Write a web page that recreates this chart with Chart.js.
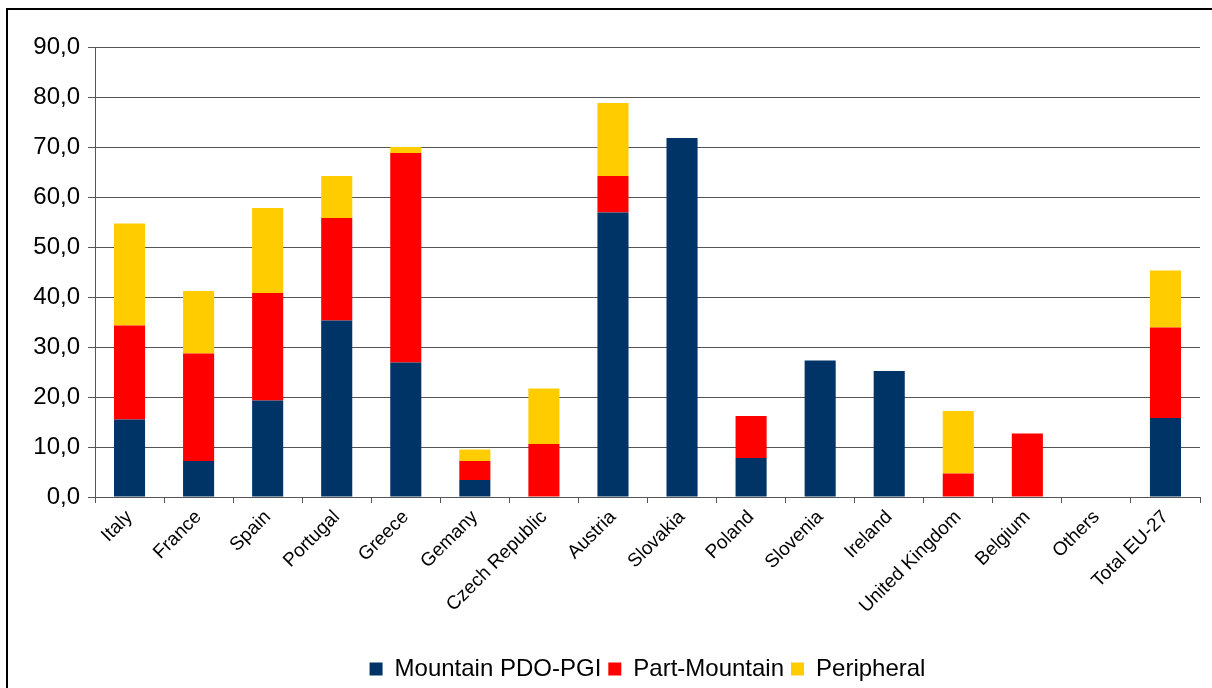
<!DOCTYPE html>
<html lang="en">
<head>
    <meta charset="UTF-8">
    <title>PDO-PGI by area type</title>
    <script src="https://cdn.jsdelivr.net/npm/chart.js"></script>
    <style>
        body {
            margin: 0;
            background: #fff;
            font-family: 'Liberation Sans', Arial, sans-serif;
        }
        .wrap {
            position: relative;
            width: 1212px;
            height: 688px;
            overflow: hidden;
        }
        .frame {
            position: absolute;
            left: 6px;
            top: 8px;
            width: 1300px;
            height: 800px;
            border: 2px solid #000;
            pointer-events: none;
        }
        canvas {
            position: absolute;
            left: 0;
            top: 0;
        }
    </style>
</head>
<body>
    <div class="wrap">
        <canvas id="areaChart" width="1212" height="688"></canvas>
        <div class="frame"></div>
    </div>

    <script>
        // Categories and shares per area type
        const countries = ['Italy', 'France', 'Spain', 'Portugal', 'Greece', 'Gemany', 'Czech Republic',
            'Austria', 'Slovakia', 'Poland', 'Slovenia', 'Ireland', 'United Kingdom', 'Belgium',
            'Others', 'Total EU-27'];
        const mountain = [15.5, 7.2, 19.3, 35.3, 26.9, 3.4, 0, 56.9, 71.8, 7.8, 27.3, 25.2, 0, 0, 0, 15.8];
        const partMountain = [18.8, 21.5, 21.5, 20.5, 41.9, 3.8, 10.6, 7.3, 0, 8.4, 0, 0, 4.7, 12.7, 0, 18.1];
        const peripheral = [20.4, 12.5, 17.0, 8.4, 1.2, 2.3, 11.1, 14.6, 0, 0, 0, 0, 12.5, 0, 0, 11.4];

        const yMax = 90;
        const yStep = 10;

        const fontFamily = "'Liberation Sans', Arial, sans-serif";

        // centre the legend under the plot area instead of the whole canvas
        const legendUnderPlot = {
            id: 'legendUnderPlot',
            afterLayout(chart) {
                const lg = chart.legend;
                const area = chart.chartArea;
                const dx = (area.left + area.right) / 2 - (lg.left + lg.right) / 2;
                lg.left += dx;
                lg.right += dx;
                lg.top += 5;
                lg.bottom += 5;
            }
        };

        const ctx = document.getElementById('areaChart').getContext('2d');
        new Chart(ctx, {
            type: 'bar',
            data: {
                labels: countries,
                datasets: [
                    { label: 'Mountain PDO-PGI', data: mountain, backgroundColor: '#003366' },
                    { label: 'Part-Mountain', data: partMountain, backgroundColor: '#ff0000' },
                    { label: 'Peripheral', data: peripheral, backgroundColor: '#ffcc00' }
                ]
            },
            plugins: [legendUnderPlot],
            options: {
                responsive: false,
                animation: false,
                layout: { padding: { top: 47, right: 12, left: 0, bottom: 2 } },
                datasets: {
                    bar: { barPercentage: 0.45, categoryPercentage: 1.0 }
                },
                scales: {
                    x: {
                        stacked: true,
                        grid: {
                            drawOnChartArea: false,
                            drawTicks: true,
                            tickLength: 6,
                            color: '#555'
                        },
                        border: { color: '#555' },
                        ticks: {
                            minRotation: 45,
                            maxRotation: 45,
                            autoSkip: false,
                            color: '#000',
                            padding: 3,
                            font: { family: fontFamily, size: 19 }
                        },
                        afterFit: (scale) => { scale.height = 148; }
                    },
                    y: {
                        stacked: true,
                        min: 0,
                        max: yMax,
                        grid: {
                            color: '#555',
                            tickLength: 7
                        },
                        border: { color: '#555' },
                        ticks: {
                            stepSize: yStep,
                            color: '#000',
                            padding: 8,
                            font: { family: fontFamily, size: 24 },
                            callback: (v) => v.toFixed(1).replace('.', ',')
                        },
                        afterFit: (scale) => { scale.width = 95; }
                    }
                },
                plugins: {
                    tooltip: { enabled: false },
                    legend: {
                        position: 'bottom',
                        labels: {
                            color: '#000',
                            boxWidth: 13,
                            boxHeight: 13,
                            padding: 7,
                            font: { family: fontFamily, size: 24 }
                        }
                    }
                }
            }
        });
    </script>
</body>
</html>
